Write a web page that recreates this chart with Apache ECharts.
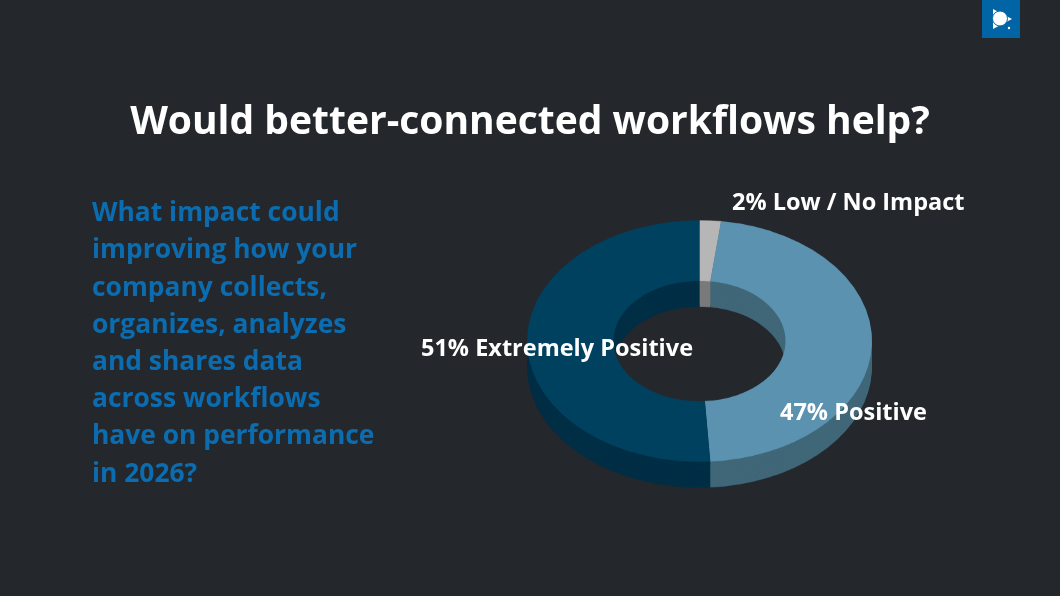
<!DOCTYPE html>
<html>
<head>
<meta charset="utf-8">
<script src="https://cdn.jsdelivr.net/npm/echarts@6/dist/echarts.min.js"></script>
<style>
  html, body { margin: 0; padding: 0; background: #24282c; }
  #wrap { position: relative; width: 1060px; height: 596px; overflow: hidden; }
  #donut, #base { position: absolute; left: 0; top: 0; width: 1060px; height: 596px; }
  /* squash the pie into an ellipse for the tilted look */
  #donut { transform-origin: 0 341px; transform: scaleY(0.7); }
</style>
</head>
<body>
<div id="wrap">
  <div id="donut"></div>
  <div id="base"></div>
</div>
<script>
// data
const categories = ['Low / No Impact', 'Positive', 'Extremely Positive']
const values = [2, 47, 51]
const titleText = 'Would better-connected workflows help?'
const questionLines = [
  'What impact could',
  'improving how your',
  'company collects,',
  'organizes, analyzes',
  'and shares data',
  'across workflows',
  'have on performance',
  'in 2026?'
]

// styles
const topColors = ['#b6b6b6', '#5a92b0', '#00415f']
const sideColors = ['#7a7a7a', '#406778', '#002e45']
const font = '"Open Sans", "Noto Sans", sans-serif'

// donut (drawn in an unscaled space, css squashes it)
const donutChart = echarts.init(document.getElementById('donut'), null, { renderer: 'canvas' })
const cx = 699.5
const cy = 341
const depth = 37   // thickness before scaling
const layers = 14

const pieData = (colors) => categories.map((name, i) => ({
  name,
  value: values[i],
  itemStyle: { color: colors[i] }
}))

const series = []
for (let k = layers; k >= 1; k--) {
  series.push({
    type: 'pie',
    silent: true,
    center: [cx, cy + depth * k / layers],
    radius: [86, 172.5],
    startAngle: 90,
    clockwise: true,
    label: { show: false },
    labelLine: { show: false },
    itemStyle: { borderWidth: 0 },
    data: pieData(sideColors)
  })
}
series.push({
  type: 'pie',
  silent: true,
  center: [cx, cy],
  radius: [86, 172.5],
  startAngle: 90,
  clockwise: true,
  label: { show: false },
  labelLine: { show: false },
  itemStyle: { borderWidth: 0 },
  data: pieData(topColors)
})

donutChart.setOption({
  animation: false,
  backgroundColor: 'transparent',
  series
})

// texts on top
const baseChart = echarts.init(document.getElementById('base'), null, { renderer: 'canvas' })

const labelPos = [[732, 201], [780, 411], [421, 347]]
const labelTexts = categories.map((c, i) => ({
  type: 'text',
  left: labelPos[i][0],
  top: labelPos[i][1] - 10,
  style: {
    text: values[i] + '% ' + c,
    fill: '#ffffff',
    font: 'bold 23.5px ' + font
  }
}))

baseChart.setOption({
  animation: false,
  backgroundColor: 'transparent',
  graphic: [
    {
      type: 'text',
      left: 'center',
      top: 103,
      style: {
        text: titleText,
        fill: '#ffffff',
        font: 'bold 39px ' + font
      }
    },
    {
      type: 'text',
      left: 92,
      top: 195,
      style: {
        text: questionLines.join('\n'),
        fill: '#0b6cb0',
        font: 'bold 26.4px ' + font,
        lineHeight: 37.2
      }
    },
    ...labelTexts,
    // logo
    {
      type: 'group',
      left: 982,
      top: 0,
      children: [
        { type: 'rect', shape: { x: 0, y: 0, width: 38, height: 38 }, style: { fill: '#0064a5' } },
        { type: 'polygon', shape: { points: [[11, 9], [30, 19], [11, 29]] }, style: { fill: '#ffffff' } },
        { type: 'circle', shape: { cx: 18, cy: 18.5, r: 7.5 }, style: { fill: '#ffffff', stroke: '#0064a5', lineWidth: 1 } },
        { type: 'circle', shape: { cx: 27, cy: 28, r: 1.2 }, style: { fill: '#ffffff' } }
      ]
    }
  ]
})

window.addEventListener('resize', () => {
  donutChart.resize()
  baseChart.resize()
})
</script>
</body>
</html>
